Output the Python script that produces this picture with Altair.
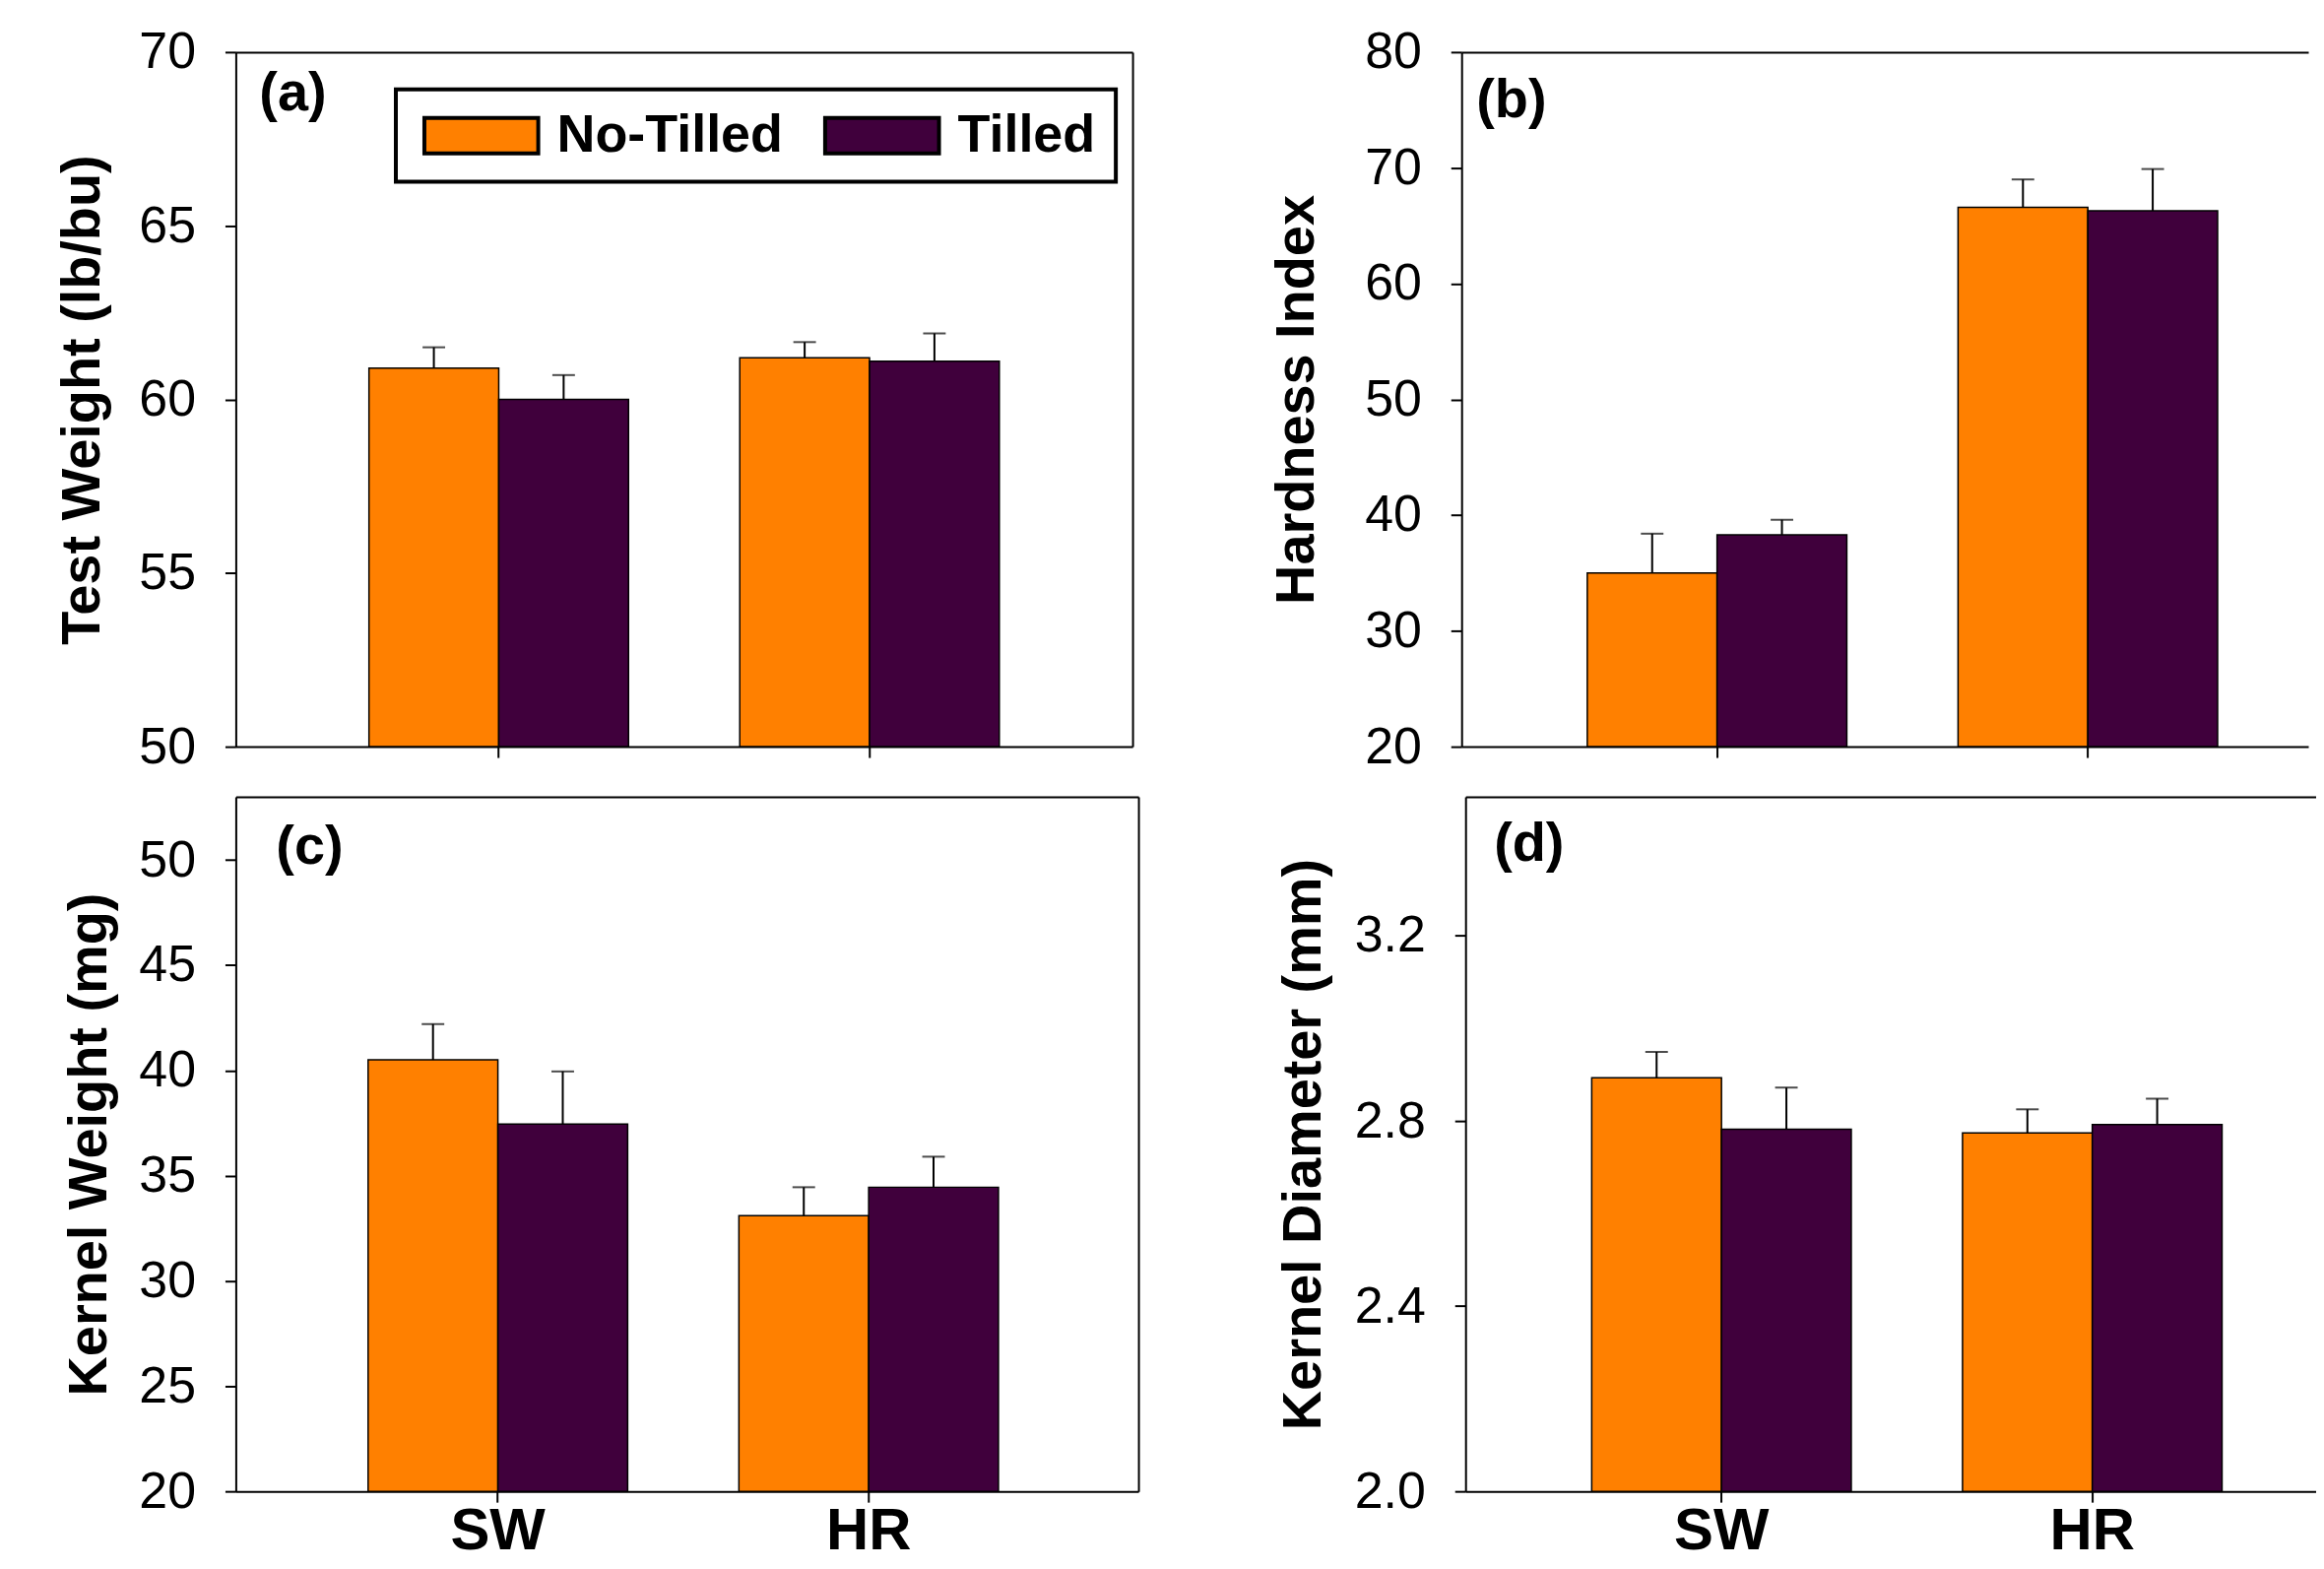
import altair as alt
import pandas as pd

categories = ["SW", "HR"]
treatments = ["No-Tilled", "Tilled"]
colors = ["#FF8000", "#40003C"]

# (a) Test Weight (lb/bu)
tw_notill = [60.9, 61.2]
tw_till = [60.0, 61.1]
tw_notill_err = [0.6, 0.45]
tw_till_err = [0.7, 0.8]

# (b) Hardness Index
hi_notill = [35.0, 66.6]
hi_till = [38.3, 66.3]
hi_notill_err = [3.4, 2.4]
hi_till_err = [1.3, 3.6]

# (c) Kernel Weight (mg)
kw_notill = [40.5, 33.1]
kw_till = [37.45, 34.45]
kw_notill_err = [1.7, 1.35]
kw_till_err = [2.5, 1.45]

# (d) Kernel Diameter (mm)
kd_notill = [2.893, 2.774]
kd_till = [2.782, 2.792]
kd_notill_err = [0.056, 0.051]
kd_till_err = [0.09, 0.056]

FONT = "Liberation Sans"
STEP = 377.5
PLOT_H = 707


def make_df(notill, till, notill_err, till_err):
    rows = []
    for i, c in enumerate(categories):
        rows.append({"cat": c, "trt": treatments[0], "val": notill[i], "err": notill_err[i]})
        rows.append({"cat": c, "trt": treatments[1], "val": till[i], "err": till_err[i]})
    return pd.DataFrame(rows)


legend_a = alt.Legend(
    title=None, orient="none", legendX=163, legendY=38, direction="horizontal",
)


def panel(df, ymin, ymax, yticks, ytitle, title_pad, width, letter, lx, ly,
          show_xlabels, right_border, fmt, align, legend):
    po = (width / STEP - 1.7) / 2
    xscale = alt.Scale(domain=categories, paddingInner=0.3, paddingOuter=po, align=align)
    yscale = alt.Scale(domain=[ymin, ymax], zero=False, nice=False)
    xoff = alt.XOffset("trt:N", sort=treatments,
                       scale=alt.Scale(domain=treatments, paddingInner=0, paddingOuter=0))
    x_axis = alt.Axis(title=None, labels=show_xlabels, labelFontSize=60, labelFontWeight="bold",
                      labelPadding=0, labelAngle=0, tickSize=11, domain=True)
    y_axis = alt.Axis(title=ytitle, values=yticks, format=fmt, titlePadding=title_pad)
    top_axis = alt.Axis(orient="top", labels=False, ticks=False, title=None, domain=True,
                        minExtent=0, maxExtent=0)
    right_axis = (alt.Axis(orient="right", labels=False, ticks=False, title=None, domain=True,
                           minExtent=0, maxExtent=0)
                  if right_border else None)

    base = alt.Chart(df).transform_calculate(up="datum.val + datum.err")
    bars = base.mark_bar(stroke="black", strokeWidth=1.5).encode(
        x=alt.X("cat:N", sort=categories, scale=xscale, axis=x_axis),
        xOffset=xoff,
        y=alt.Y("val:Q", scale=yscale, axis=y_axis),
        y2=alt.datum(ymin),
        color=alt.Color("trt:N", scale=alt.Scale(domain=treatments, range=colors), legend=legend),
    )
    rules = base.mark_rule(color="black", strokeWidth=2).encode(
        x=alt.X("cat:N", sort=categories, scale=xscale, axis=top_axis),
        xOffset=xoff,
        y=alt.Y("val:Q", scale=yscale, axis=right_axis),
        y2="up:Q",
    )
    caps = base.mark_tick(color="black", size=23, thickness=2).encode(
        x=alt.X("cat:N", sort=categories, scale=xscale, axis=None),
        xOffset=xoff,
        y=alt.Y("up:Q", scale=yscale, axis=None),
    )
    lab = alt.Chart(pd.DataFrame({"lbl": [letter]})).mark_text(
        align="left", baseline="middle", fontSize=56, fontWeight="bold", font=FONT, color="black"
    ).encode(text="lbl:N", x=alt.value(lx), y=alt.value(ly))
    return alt.layer(bars, rules, caps, lab).resolve_axis(
        x="independent", y="independent"
    ).properties(width=width, height=PLOT_H)


pa = panel(make_df(tw_notill, tw_till, tw_notill_err, tw_till_err), 50, 70, [50, 55, 60, 65, 70],
           "Test Weight (lb/bu)", 28, 913, "(a)", 24, 42, False, True, "d", 0.5, legend_a)
pb = panel(make_df(hi_notill, hi_till, hi_notill_err, hi_till_err), 20, 80, [20, 30, 40, 50, 60, 70, 80],
           "Hardness Index", 40, 862, "(b)", 15, 49, False, False, "d", 0.581, None)
pc = panel(make_df(kw_notill, kw_till, kw_notill_err, kw_till_err), 20, 53, [20, 25, 30, 35, 40, 45, 50],
           "Kernel Weight (mg)", 21, 919, "(c)", 41, 51, True, True, "d", 0.486, None)
pd_ = panel(make_df(kd_notill, kd_till, kd_notill_err, kd_till_err), 2.0, 3.5, [2.0, 2.4, 2.8, 3.2],
            "Kernel Diameter (mm)", 23, 866, "(d)", 29, 48, True, False, ".1f", 0.573, None)

row1 = alt.hconcat(pa, pb, spacing=139).resolve_scale(color="independent").resolve_legend(color="independent")
row2 = alt.hconcat(pc, pd_, spacing=139).resolve_scale(color="independent").resolve_legend(color="independent")

chart = alt.vconcat(row1, row2, spacing=25).resolve_scale(color="independent").resolve_legend(
    color="independent"
).properties(
    padding={"left": 48, "top": 17, "right": 0, "bottom": 0},
    background="white",
).configure_view(stroke=None).configure_axis(
    grid=False,
    domainColor="black",
    domainWidth=2,
    tickColor="black",
    tickWidth=2,
    tickSize=11,
    labelColor="black",
    labelFont=FONT,
    labelFontSize=52,
    labelPadding=30,
    titleFont=FONT,
    titleFontSize=56,
    titleFontWeight="bold",
    titleColor="black",
).configure_legend(
    labelFont=FONT,
    labelFontSize=54,
    labelFontWeight="bold",
    labelColor="black",
    labelLimit=800,
    labelOffset=50,
    symbolType="M-3.22,-1H3.22V1H-3.22Z",
    symbolSize=1296,
    symbolOffset=40,
    symbolStrokeColor="black",
    symbolStrokeWidth=4,
    columnPadding=33,
    padding=20,
    strokeColor="black",
    strokeWidth=4,
    fillColor="white",
)

chart.save("out.html", embed_options={"renderer": "svg", "actions": False})
